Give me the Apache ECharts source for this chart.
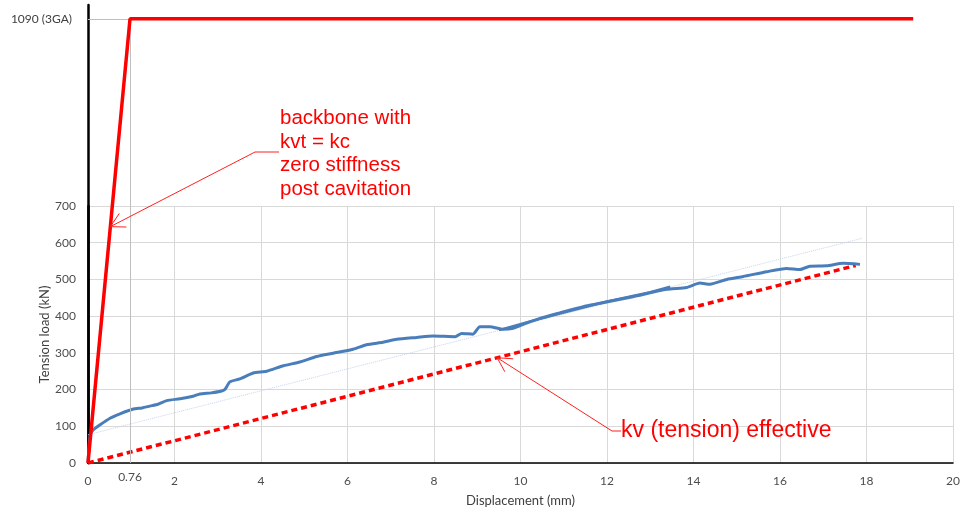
<!DOCTYPE html>
<html><head><meta charset="utf-8">
<script src="https://cdn.jsdelivr.net/npm/echarts@6/dist/echarts.min.js"></script>
<style>html,body{margin:0;padding:0;background:#fff}#c{width:965px;height:516px}</style>
</head><body><div id="c"></div><script>
// measured test curve (Displacement mm, Tension load kN)
const testX = [0, 0.05, 0.12, 0.28, 0.51, 0.74, 1.05, 1.25, 1.43, 1.62, 1.82, 2.13, 2.43, 2.59, 2.85, 3.09, 3.17, 3.28, 3.51, 3.82, 4.13, 4.52, 4.9, 5.29, 5.67, 6.13, 6.44, 6.82, 7.14, 7.6, 7.98, 8.49, 8.64, 8.9, 9.06, 9.29, 9.6, 9.83, 10.14, 10.45, 10.91, 11.45, 11.84, 12.6, 13.38, 13.84, 14.15, 14.38, 14.77, 15.15, 15.69, 16.15, 16.46, 16.69, 17.08, 17.46, 17.85];
const testY = [0, 77, 90, 104, 122, 134, 147, 150, 155, 160, 170, 175, 182, 188, 191, 196, 201, 221, 229, 245, 250, 265, 275, 290, 299, 310, 322, 329, 337, 342, 346, 344, 353, 351, 371, 371, 364, 367, 381, 394, 409, 426, 435, 453, 473, 478, 490, 487, 500, 508, 521, 530, 527, 536, 537, 544, 541];
// overlapping second test segment
const test2X = [9.5, 10.2, 11.0, 12.0, 13.0, 13.46];
const test2Y = [362, 385, 410, 440, 465, 480];
// linear trend of test curve
const trendX = [0, 17.9];
const trendY = [77, 612];
// kv (tension) effective
const kvX = [0, 17.75];
const kvY = [0, 538];
// backbone (schematic overlay scale)
const backX = [0, 0.76, 14.93];
const backY = [0, 1090, 1090];
const xTicks = [0, 2, 4, 6, 8, 10, 12, 14, 16, 18, 20];
const yTicks = [0, 100, 200, 300, 400, 500, 600, 700];
const backXLabel = [0.76];
const backYLabel = [1090];
const backYLabelText = '1090 (3GA)';
const xName = 'Displacement (mm)';
const yName = 'Tension load (kN)';
const noteBackbone = 'backbone with\nkvt = kc\nzero stiffness\npost cavitation';
const noteKv = 'kv (tension) effective';

const zip = (a, b) => a.map((v, i) => [v, b[i]]);
const FONT = 'Lato';
const chart = echarts.init(document.getElementById('c'), null, {renderer: 'canvas'});
const option = {
  animation: false,
  backgroundColor: '#fff',
  grid: [
    {left: 88, top: 206, width: 865, height: 257},
    {left: 88, top: 5, width: 865, height: 458}
  ],
  xAxis: [
    {gridIndex: 0, type: 'value', min: xTicks[0], max: xTicks[xTicks.length - 1], interval: 2,
     axisLine: {show: true, lineStyle: {color: '#000', width: 1.5}},
     axisTick: {show: false},
     axisLabel: {color: '#4d4d4d', fontFamily: FONT, fontSize: 12, margin: 12},
     splitLine: {show: true, lineStyle: {color: '#d9d9d9', width: 1}},
     name: xName, nameLocation: 'middle', nameGap: 31, nameMoveOverlap: false,
     nameTextStyle: {color: '#404040', fontFamily: FONT, fontSize: 13}},
    {gridIndex: 1, type: 'value', min: 0, max: 15.65,
     axisLine: {show: false}, axisTick: {show: false}, splitLine: {show: false},
     axisLabel: {show: true, customValues: backXLabel, color: '#4d4d4d', fontFamily: FONT, fontSize: 12, margin: 8}}
  ],
  yAxis: [
    {gridIndex: 0, type: 'value', min: yTicks[0], max: yTicks[yTicks.length - 1], interval: 100,
     axisLine: {show: true, lineStyle: {color: '#000', width: 2.5}},
     axisTick: {show: false},
     axisLabel: {color: '#4d4d4d', fontFamily: FONT, fontSize: 12, margin: 12},
     splitLine: {show: true, lineStyle: {color: '#d9d9d9', width: 1}},
     name: yName, nameLocation: 'middle', nameGap: 37, nameRotate: 90, nameMoveOverlap: false,
     nameTextStyle: {color: '#404040', fontFamily: FONT, fontSize: 13}},
    {gridIndex: 1, type: 'value', min: 0, max: 1124,
     axisLine: {show: true, lineStyle: {color: '#000', width: 2.5}},
     axisTick: {show: false}, splitLine: {show: false},
     axisLabel: {show: true, customValues: backYLabel, formatter: () => backYLabelText,
       color: '#404040', fontFamily: FONT, fontSize: 12, margin: 16}}
  ],
  series: [
    {type: 'line', name: 'trend', xAxisIndex: 0, yAxisIndex: 0, data: zip(trendX, trendY),
     showSymbol: false, lineStyle: {color: '#c5d5ee', width: 1, type: 'dotted'}, z: 2},
    {type: 'line', name: 'kv', xAxisIndex: 0, yAxisIndex: 0, data: zip(kvX, kvY),
     showSymbol: false, lineStyle: {color: '#ff0000', width: 3.5, type: [6, 4]}, z: 3},
    {type: 'line', name: 'test', xAxisIndex: 0, yAxisIndex: 0, data: zip(testX, testY),
     showSymbol: false, smooth: 0.2, lineStyle: {color: '#4a7ebb', width: 3}, z: 4},
    {type: 'line', name: 'test2', xAxisIndex: 0, yAxisIndex: 0, data: zip(test2X, test2Y),
     showSymbol: false, lineStyle: {color: '#4a7ebb', width: 2.5}, z: 4},
    {type: 'line', name: 'backbone', xAxisIndex: 1, yAxisIndex: 1, data: zip(backX, backY),
     showSymbol: false, lineStyle: {color: '#ff0000', width: 3.5}, z: 6,
     markLine: {silent: true, symbol: 'none', label: {show: false},
       lineStyle: {color: '#bfbfbf', width: 1, type: 'solid'},
       data: [
         [{coord: [backX[1], 0]}, {coord: [backX[1], backY[1]]}],
         [{coord: [0, backY[1]]}, {coord: [backX[1], backY[1]]}]
       ]}}
  ]
};
chart.setOption(option);

function arrow(tip, from, len, ang) {
  const dx = from[0] - tip[0], dy = from[1] - tip[1];
  const a = Math.atan2(dy, dx);
  const w1 = [tip[0] + len * Math.cos(a + ang), tip[1] + len * Math.sin(a + ang)];
  const w2 = [tip[0] + len * Math.cos(a - ang), tip[1] + len * Math.sin(a - ang)];
  return [w1, tip, w2];
}
const bFrac = 580 / backY[1];
const tip1 = chart.convertToPixel({gridIndex: 1}, [backX[1] * bFrac, 580]);
const tip2 = chart.convertToPixel({gridIndex: 0}, [9.46, kvY[1] / kvX[1] * 9.46]);
const red = '#ff2020';
const knee1 = [255, 152], end1 = [279, 152];
const knee2 = [612, 431], end2 = [621, 431];
chart.setOption({
  graphic: [
    {type: 'polyline', shape: {points: [tip1, knee1, end1]}, style: {stroke: red, lineWidth: 1, fill: null}, z: 20},
    {type: 'polyline', shape: {points: arrow(tip1, knee1, 16, 0.5)}, style: {stroke: red, lineWidth: 1, fill: null}, z: 20},
    {type: 'polyline', shape: {points: [tip2, knee2, end2]}, style: {stroke: red, lineWidth: 1, fill: null}, z: 20},
    {type: 'polyline', shape: {points: arrow(tip2, knee2, 16, 0.5)}, style: {stroke: red, lineWidth: 1, fill: null}, z: 20},
    {type: 'text', x: 280, y: 107, z: 20,
     style: {text: noteBackbone, fill: '#ff0000', font: '20.5px "Liberation Sans"', lineHeight: 23.5, verticalAlign: 'top'}},
    {type: 'text', x: 621, y: 431, z: 20,
     style: {text: noteKv, fill: '#ff0000', font: '23px "Liberation Sans"', verticalAlign: 'middle'}}
  ]
});
</script></body></html>
